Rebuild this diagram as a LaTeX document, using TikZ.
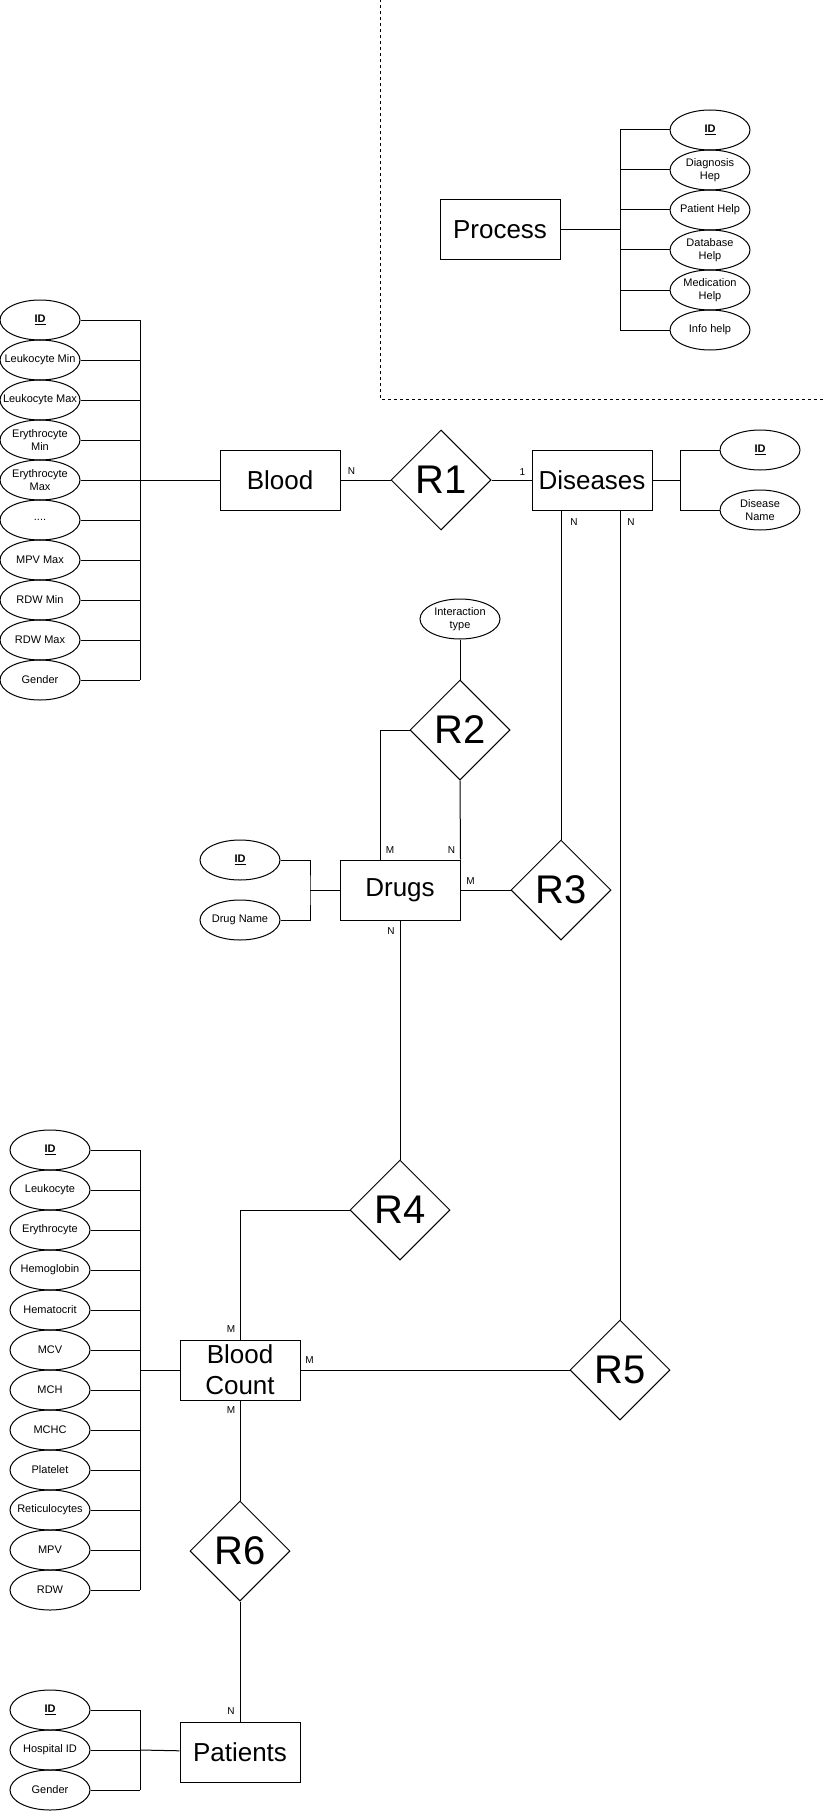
\documentclass[tikz,border=0pt]{standalone}
\usepackage{fontspec}
\setmainfont{Liberation Sans}
\usetikzlibrary{shapes.geometric,positioning}
\newcommand\puntos{....}

\begin{document}
\begin{tikzpicture}[x=1pt,y=-1pt,line width=1pt,
    ent/.style={draw,minimum width=120pt,minimum height=60pt,inner sep=2pt,
                align=center,font=\fontsize{26}{31}\selectfont},
    rel/.style={draw,diamond,minimum size=100pt,inner sep=0pt,
                font=\fontsize{40}{40}\selectfont},
    atr/.style={draw,ellipse,minimum width=80pt,minimum height=40pt,
                inner xsep=-16pt,inner ysep=-4pt,align=center,
                font=\fontsize{11}{13}\selectfont},
    card/.style={inner sep=0pt,font=\fontsize{10}{10}\selectfont}]
  \useasboundingbox (0,0) rectangle (822,1811);

  % marco punteado alrededor de Process
  \draw[line width=0.8pt,dash pattern=on 3pt off 3pt] (380,-1) -- (380,399) -- (823,399);

  % entidades
  \node[ent] (process) at (500,230) {Process};
  \node[ent] (blood) at (280,480) {Blood};
  \node[rel,right=50pt of blood] (r1) {R1};
  \node[ent,right=40pt of r1] (diseases) {Diseases};
  \node[rel] (r2) at (460,730) {R2};
  \node[atr,above=40pt of r2] (intx) {Interaction\\type};
  \node[ent] (drugs) at (400,890) {Drugs};
  \node[rel,right=50pt of drugs] (r3) {R3};
  \node[rel] (r4) at (400,1210) {R4};
  \node[ent] (bcount) at (240,1370) {Blood\\Count};
  \node[rel] (r5) at (620,1370) {R5};
  \node[rel,below=100pt of bcount] (r6) {R6};
  \node[ent,below=120pt of r6] (patients) {Patients};

  % atributos de Process
  \coordinate (busP) at (620,230);
  \foreach \t [count=\i from 0] in {\underline{\textbf{ID}},Diagnosis\\Hep,
      Patient Help,Database\\Help,Medication\\Help,Info help}
    \node[atr] (pa\i) at (710,130+40*\i) {\t};
  \foreach \i in {0,...,5}
    \draw (pa\i.west) -- (pa\i.west -| busP);
  \draw (pa0.west -| busP) -- (pa5.west -| busP);
  \draw (process) -- (busP);

  % atributos de Blood
  \coordinate (busB) at (140,480);
  \foreach \t [count=\i from 0] in {\underline{\textbf{ID}},Leukocyte Min,
      Leukocyte Max,Erythrocyte\\Min,Erythrocyte\\Max,\puntos,MPV Max,
      RDW Min,RDW Max,Gender}
    \node[atr] (ba\i) at (40,320+40*\i) {\t};
  \foreach \i in {0,...,9}
    \draw (ba\i.east) -- (ba\i.east -| busB);
  \draw (ba0.east -| busB) -- (ba9.east -| busB);
  \draw (busB) -- (blood);

  % atributos de Diseases
  \coordinate (busD) at (680,480);
  \node[atr] (da0) at (760,450) {\underline{\textbf{ID}}};
  \node[atr] (da1) at (760,510) {Disease\\Name};
  \draw (da0.west) -| (busD) |- (da1.west);
  \draw (diseases) -- (busD);

  % atributos de Drugs
  \coordinate (busR) at (310,890);
  \node[atr] (ra0) at (240,860) {\underline{\textbf{ID}}};
  \node[atr] (ra1) at (240,920) {Drug Name};
  \draw (ra0.east) -| (busR) |- (ra1.east);
  \draw (busR) -- (drugs);

  % atributos de Blood Count
  \coordinate (busC) at (140,1370);
  \foreach \t [count=\i from 0] in {\underline{\textbf{ID}},Leukocyte,
      Erythrocyte,Hemoglobin,Hematocrit,MCV,MCH,MCHC,Platelet,
      Reticulocytes,MPV,RDW}
    \node[atr] (ca\i) at (50,1150+40*\i) {\t};
  \foreach \i in {0,...,11}
    \draw (ca\i.east) -- (ca\i.east -| busC);
  \draw (ca0.east -| busC) -- (ca11.east -| busC);
  \draw (busC) -- (bcount);

  % atributos de Patients
  \coordinate (busT) at (140,1750);
  \foreach \t [count=\i from 0] in {\underline{\textbf{ID}},Hospital ID,Gender}
    \node[atr] (ta\i) at (50,1710+40*\i) {\t};
  \foreach \i in {0,1,2}
    \draw (ta\i.east) -- (ta\i.east -| busT);
  \draw (ta0.east -| busT) -- (ta2.east -| busT);
  \draw (busT) -- (patients);

  % relaciones
  \coordinate (d3) at (diseases.south -| r3.north);
  \coordinate (d5) at (diseases.south -| r5.north);
  \coordinate (dm) at ([xshift=-20pt]drugs.north);
  \draw (blood) -- (r1);
  \draw (r1) -- (diseases);
  \draw (d3) -- (r3.north);
  \draw (d5) -- (r5.north);
  \draw (intx) -- (r2);
  \draw (r2.west) -| (dm);
  \draw (r2.south) -- (drugs.north east);
  \draw (drugs) -- (r3);
  \draw (drugs) -- (r4);
  \draw (r4.west) -| (bcount.north);
  \draw (bcount) -- (r5);
  \draw (bcount) -- (r6);
  \draw (r6) -- (patients);

  % cardinalidades
  \node[card] (k1) at ([shift={(11,-9)}]blood.east) {N};
  \node[card] (k2) at ([shift={(-9,-8)}]diseases.west) {1};
  \node[card] (k3) at ([shift={(13,12)}]d3) {N};
  \node[card] (k4) at ([shift={(11,12)}]d5) {N};
  \node[card] (k5) at ([shift={(10,-9)}]dm) {M};
  \node[card] (k6) at ([shift={(-9,-9)}]drugs.north east) {N};
  \node[card] (k7) at ([shift={(10,-9)}]drugs.east) {M};
  \node[card] (k8) at ([shift={(-9,11)}]drugs.south) {N};
  \node[card] (k9) at ([shift={(-9,-10)}]bcount.north) {M};
  \node[card] (k10) at ([shift={(9,-10)}]bcount.east) {M};
  \node[card] (k11) at ([shift={(-9,10)}]bcount.south) {M};
  \node[card] (k12) at ([shift={(-9,-10)}]patients.north) {N};
\end{tikzpicture}
\end{document}
